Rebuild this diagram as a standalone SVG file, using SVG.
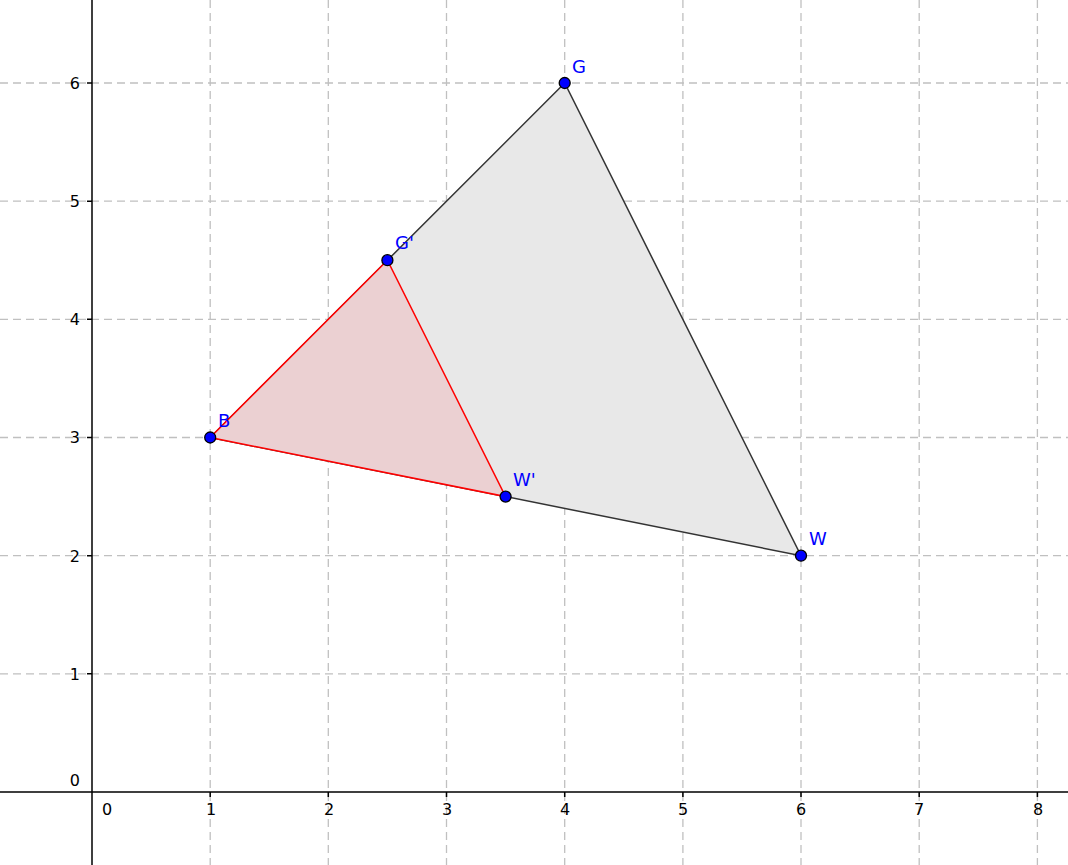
<svg xmlns="http://www.w3.org/2000/svg" width="1068" height="865" viewBox="0 0 1068 865">
<style>
.grid{stroke:#c0c0c0;stroke-width:1.3;stroke-dasharray:8,5;fill:none}
.axis{stroke:#000;stroke-width:1.5;fill:none}
.tick{font-family:"DejaVu Sans",sans-serif;font-size:16px;fill:#000}
.pt{fill:#0000ff;stroke:#000;stroke-width:1.3}
.lbl{font-family:"DejaVu Sans",sans-serif;font-size:18px;fill:#0000ff}
</style>
<rect width="1068" height="865" fill="#fff"/>
<g id="grid">
<path class="grid" d="M210.2,0V865M328.3,0V865M446.5,0V865M564.7,0V865M682.9,0V865M801,0V865M919.2,0V865M1037.4,0V865"/>
<path class="grid" d="M0,673.8H1068M0,555.7H1068M0,437.5H1068M0,319.3H1068M0,201.2H1068M0,83H1068"/>
</g>
<g id="axes">
<path class="axis" d="M92,0V865M0,792H1068"/>
<path class="axis" d="M210.2,792v5M328.3,792v5M446.5,792v5M564.7,792v5M682.9,792v5M801,792v5M919.2,792v5M1037.4,792v5"/>
<path class="axis" d="M87,673.8h5M87,555.7h5M87,437.5h5M87,319.3h5M87,201.2h5M87,83h5"/>
<g class="tick" text-anchor="middle">
<text x="107" y="815">0</text>
<text x="211" y="815">1</text>
<text x="329" y="815">2</text>
<text x="447" y="815">3</text>
<text x="565" y="815">4</text>
<text x="683" y="815">5</text>
<text x="801" y="815">6</text>
<text x="919" y="815">7</text>
<text x="1038" y="815">8</text>
</g>
<g class="tick" text-anchor="end">
<text x="80" y="786">0</text>
<text x="80" y="679.5">1</text>
<text x="80" y="561.5">2</text>
<text x="80" y="443">3</text>
<text x="80" y="325">4</text>
<text x="80" y="207">5</text>
<text x="80" y="89">6</text>
</g>
</g>
<g id="triangle-BGW">
<polygon points="210.2,437.5 564.7,83 801,555.7" fill="#e8e8e8" stroke="#333" stroke-width="1.5"/>
</g>
<g id="triangle-BGW-prime">
<polygon points="210.2,437.5 387.4,260.2 505.6,496.6" fill="#ebd0d2" stroke="#ff0000" stroke-width="1.5"/>
</g>
<g id="point-B"><circle class="pt" cx="210.2" cy="437.5" r="5.5"/><text class="lbl" x="218" y="427">B</text></g>
<g id="point-G"><circle class="pt" cx="564.7" cy="83" r="5.5"/><text class="lbl" x="572" y="73">G</text></g>
<g id="point-W"><circle class="pt" cx="801" cy="555.7" r="5.5"/><text class="lbl" x="809" y="545">W</text></g>
<g id="point-Gp"><circle class="pt" cx="387.4" cy="260.2" r="5.5"/><text class="lbl" x="395" y="249">G'</text></g>
<g id="point-Wp"><circle class="pt" cx="505.6" cy="496.6" r="5.5"/><text class="lbl" x="513" y="486">W'</text></g>
</svg>
